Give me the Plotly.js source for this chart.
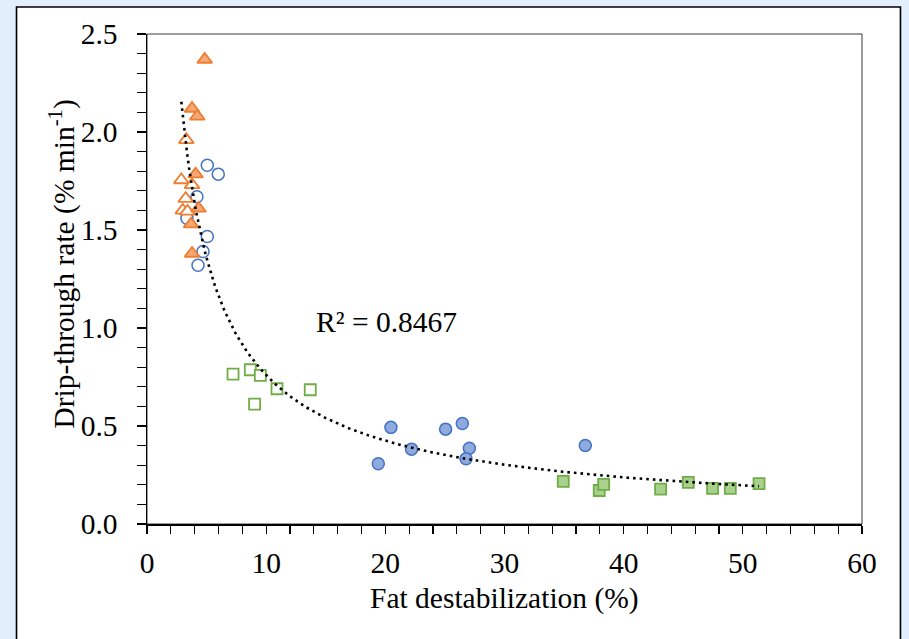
<!DOCTYPE html>
<html>
<head>
<meta charset="utf-8">
<script src="https://cdn.plot.ly/plotly-3.0.1.min.js"></script>
<style>html,body{margin:0;padding:0;background:#e2eefc;}#chart{width:909px;height:639px;}</style>
</head>
<body>
<div id="chart"></div>
<script>
// Orange triangles, filled
const triFilledX = [4.84, 3.78, 4.22, 4.08, 4.33, 3.70, 3.78];
const triFilledY = [2.37, 2.12, 2.08, 1.785, 1.61, 1.53, 1.38];
// Orange triangles, open
const triOpenX = [3.30, 2.88, 3.78, 3.25, 3.00, 3.40];
const triOpenY = [1.96, 1.755, 1.73, 1.66, 1.60, 1.595];
// Blue circles, open
const circOpenX = [5.06, 5.98, 4.19, 3.35, 5.06, 4.70, 4.28];
const circOpenY = [1.83, 1.785, 1.67, 1.56, 1.467, 1.39, 1.32];
// Blue circles, filled
const circFilledX = [20.47, 19.41, 22.20, 25.06, 26.46, 27.05, 26.77, 36.78];
const circFilledY = [0.493, 0.307, 0.382, 0.484, 0.513, 0.387, 0.333, 0.401];
// Green squares, open
const sqOpenX = [7.22, 8.67, 9.51, 10.91, 13.70, 9.03];
const sqOpenY = [0.765, 0.787, 0.758, 0.690, 0.685, 0.612];
// Green squares, filled
const sqFilledX = [34.93, 37.95, 38.32, 43.10, 45.42, 47.46, 48.95, 51.36];
const sqFilledY = [0.217, 0.171, 0.202, 0.178, 0.212, 0.182, 0.182, 0.206];

const xTickVals = [0, 10, 20, 30, 40, 50, 60];
const yTickVals = [0, 0.5, 1.0, 1.5, 2.0, 2.5];
const r2Label = 'R² = 0.8467';

// Power-law trendline fitted to all points (least squares on log-log)
const allX = [].concat(triFilledX, triOpenX, circOpenX, circFilledX, sqOpenX, sqFilledX);
const allY = [].concat(triFilledY, triOpenY, circOpenY, circFilledY, sqOpenY, sqFilledY);
const lx = allX.map(Math.log), ly = allY.map(Math.log);
const n = lx.length;
const mx = lx.reduce((a,b)=>a+b,0)/n, my = ly.reduce((a,b)=>a+b,0)/n;
let sxy = 0, sxx = 0;
for (let i = 0; i < n; i++) { sxy += (lx[i]-mx)*(ly[i]-my); sxx += (lx[i]-mx)*(lx[i]-mx); }
const bFit = sxy/sxx, aFit = Math.exp(my - bFit*mx);
const xMin = Math.min(...allX), xMax = Math.max(...allX);
const trendX = [], trendY = [];
for (let i = 0; i <= 300; i++) {
  const xv = xMin + (xMax - xMin) * i / 300;
  trendX.push(xv); trendY.push(aFit * Math.pow(xv, bFit));
}

const FONT = 'Liberation Serif, Times New Roman, serif';
const ORANGE = '#ED7D31', ORANGE_F = '#F4A875';
const BLUE = '#4472C4', BLUE_F = '#8FAADC';
const GREEN = '#70AD47', GREEN_F = '#A9D18E';

const traces = [
  {x: sqOpenX, y: sqOpenY, mode: 'markers', type: 'scatter',
   marker: {symbol: 'square', size: 11, color: '#ffffff', line: {color: GREEN, width: 1.8}}},
  {x: sqFilledX, y: sqFilledY, mode: 'markers', type: 'scatter',
   marker: {symbol: 'square', size: 11, color: GREEN_F, line: {color: GREEN, width: 1.8}}},
  {x: circFilledX, y: circFilledY, mode: 'markers', type: 'scatter',
   marker: {symbol: 'circle', size: 12, color: BLUE_F, line: {color: BLUE, width: 1.5}}},
  {x: circOpenX, y: circOpenY, mode: 'markers', type: 'scatter',
   marker: {symbol: 'circle-open', size: 12, color: BLUE, line: {color: BLUE, width: 1.5}}},
  {x: triOpenX, y: triOpenY, mode: 'markers', type: 'scatter',
   marker: {symbol: 'triangle-up', size: 13, color: '#ffffff', line: {color: ORANGE, width: 1.8}}},
  {x: triFilledX, y: triFilledY, mode: 'markers', type: 'scatter',
   marker: {symbol: 'triangle-up', size: 13, color: ORANGE_F, line: {color: ORANGE, width: 1.8}}},
  {x: trendX, y: trendY, mode: 'lines', type: 'scatter',
   line: {color: '#000000', width: 2.6, dash: '2.6px,4px'}}
];

const axisCommon = {
  showgrid: false, zeroline: false, showline: true, linecolor: '#000', linewidth: 1.5,
  ticks: 'outside', tickcolor: '#000', tickwidth: 1.3,
  tickfont: {family: FONT, size: 29.5, color: '#000'}
};

const layout = {
  width: 909, height: 639,
  margin: {l: 147, r: 47, t: 34, b: 115},
  paper_bgcolor: '#e2eefc', plot_bgcolor: '#ffffff',
  showlegend: false,
  font: {family: FONT, color: '#000'},
  xaxis: Object.assign({}, axisCommon, {
    range: [0, 60], tickvals: xTickVals, ticktext: xTickVals.map(String), ticklen: 8,
    ticklabelstandoff: 4,
    minor: {dtick: 2, tick0: 0, ticks: 'outside', ticklen: 8, tickcolor: '#000', tickwidth: 1.1}
  }),
  yaxis: Object.assign({}, axisCommon, {
    range: [0, 2.5], tickvals: yTickVals, ticktext: yTickVals.map(v => v.toFixed(1)), ticklen: 9,
    ticklabelstandoff: 13,
    minor: {dtick: 0.1, tick0: 0, ticks: 'outside', ticklen: 9, tickcolor: '#000', tickwidth: 1.1}
  }),
  shapes: [
    {type: 'rect', xref: 'paper', yref: 'paper', x0: -0.1825, x1: 1.0538, y0: -0.4, y1: 1.0551,
     fillcolor: '#ffffff', line: {color: '#000', width: 1.6}, layer: 'below'},
    {type: 'rect', xref: 'paper', yref: 'paper', x0: 0, x1: 1, y0: 0, y1: 1,
     line: {color: '#3a3a3a', width: 1}, layer: 'below'}
  ],
  annotations: [
    {text: 'Fat destabilization (%)', xref: 'paper', yref: 'paper', x: 0.4995, y: -0.152,
     xanchor: 'center', yanchor: 'middle', showarrow: false, font: {family: FONT, size: 29.5, color: '#000'}},
    {text: 'Drip-through rate (% min<sup>-1</sup>)', xref: 'paper', yref: 'paper', x: -0.1195, y: 0.5306,
     xanchor: 'center', yanchor: 'middle', textangle: -90, showarrow: false,
     font: {family: FONT, size: 29.5, color: '#000'}},
    {text: r2Label, xref: 'x', yref: 'y', x: 20.1, y: 1.03, xanchor: 'center', yanchor: 'middle',
     showarrow: false, font: {family: FONT, size: 29.5, color: '#000'}}
  ]
};

Plotly.newPlot('chart', traces, layout, {displayModeBar: false, staticPlot: true});
</script>
</body>
</html>
